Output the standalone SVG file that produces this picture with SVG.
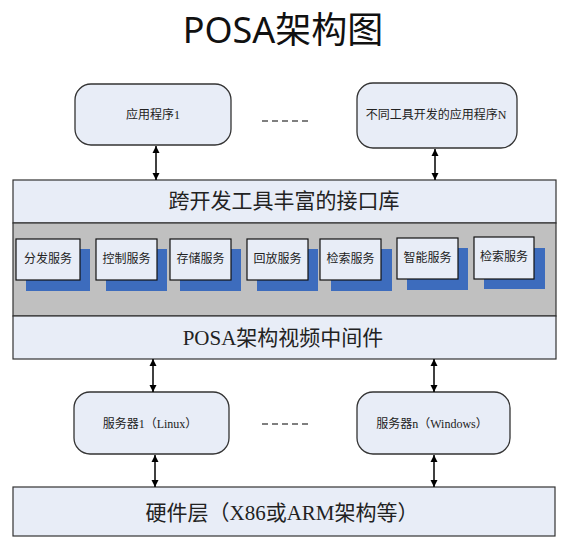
<svg xmlns="http://www.w3.org/2000/svg" width="566" height="542" viewBox="0 0 566 542">
<defs>
<marker id="ah" viewBox="0 0 10 10" refX="10" refY="5" markerWidth="7" markerHeight="8" markerUnits="userSpaceOnUse" orient="auto-start-reverse">
<path d="M0,0 L10,5 L0,10 z" fill="#000"/>
</marker>
<style>
.t{font-family:"Liberation Serif","Noto Sans CJK SC",serif;fill:#222;text-anchor:middle;dominant-baseline:central}
.node{fill:#e8edf7;stroke:#333;stroke-width:1.3}
.bar{fill:#e8edf7;stroke:#333;stroke-width:1.2}
.sh{fill:#3d6cbd}
.svc{fill:#e8edf7;stroke:#111;stroke-width:1.2}
.c{stroke:#000;stroke-width:1.5;fill:none;marker-start:url(#ah);marker-end:url(#ah)}
.d{stroke:#000;stroke-width:1.2;stroke-dasharray:6,4;fill:none}
</style>
</defs>
<rect width="566" height="542" fill="#fff"/>
<text x="283" y="29" font-family="Noto Sans,'Noto Sans CJK SC',sans-serif" font-size="36" text-anchor="middle" dominant-baseline="central" fill="#111">POSA架构图</text>

<g id="app1"><rect class="node" x="75" y="84" width="156" height="61" rx="16"/><text class="t" x="153" y="115" font-size="12">应用程序1</text></g>
<g id="appN"><rect class="node" x="357" y="83" width="160" height="65" rx="16"/><text class="t" x="436" y="115" font-size="12">不同工具开发的应用程序N</text></g>

<g id="api"><rect class="bar" x="13" y="180" width="543" height="43"/><text class="t" x="284" y="201" font-size="21">跨开发工具丰富的接口库</text></g>
<g id="services-band"><rect x="13" y="223" width="543" height="93" fill="#c0c0c0" stroke="#333" stroke-width="1.2"/></g>

<g id="svc1"><rect class="sh" x="26" y="249" width="64" height="42"/><rect class="svc" x="16" y="239" width="64" height="41"/><text class="t" x="48" y="259" font-size="12">分发服务</text></g>
<g id="svc2"><rect class="sh" x="106" y="249" width="61" height="42"/><rect class="svc" x="96" y="239" width="61" height="41"/><text class="t" x="126.5" y="259" font-size="12">控制服务</text></g>
<g id="svc3"><rect class="sh" x="180" y="249" width="61" height="42"/><rect class="svc" x="170" y="239" width="61" height="41"/><text class="t" x="200.5" y="259" font-size="12">存储服务</text></g>
<g id="svc4"><rect class="sh" x="257" y="249" width="61" height="42"/><rect class="svc" x="247" y="239" width="61" height="41"/><text class="t" x="277.5" y="259" font-size="12">回放服务</text></g>
<g id="svc5"><rect class="sh" x="331" y="249" width="61" height="42"/><rect class="svc" x="320" y="239" width="61" height="41"/><text class="t" x="350.5" y="259" font-size="12">检索服务</text></g>
<g id="svc6"><rect class="sh" x="407" y="248" width="61" height="42"/><rect class="svc" x="397" y="238" width="61" height="41"/><text class="t" x="427.5" y="258" font-size="12">智能服务</text></g>
<g id="svc7"><rect class="sh" x="484" y="248" width="61" height="41"/><rect class="svc" x="474" y="237" width="60" height="42"/><text class="t" x="504" y="257" font-size="12">检索服务</text></g>

<g id="mw"><rect class="bar" x="13" y="316" width="543" height="43"/><text class="t" x="283" y="338" font-size="21">POSA架构视频中间件</text></g>

<g id="srv1"><rect class="node" x="74" y="392" width="155" height="62" rx="16"/><text class="t" x="150" y="424" font-size="12">服务器1（Linux）</text></g>
<g id="srvN"><rect class="node" x="357" y="392" width="153" height="62" rx="16"/><text class="t" x="432" y="424" font-size="12">服务器n（Windows）</text></g>

<g id="hw"><rect class="bar" x="13" y="487" width="542" height="49"/><text class="t" x="282" y="513" font-size="21">硬件层（X86或ARM架构等）</text></g>

<g id="connectors">
<line class="c" x1="156" y1="146" x2="156" y2="180"/>
<line class="c" x1="435" y1="149" x2="435" y2="180"/>
<line class="c" x1="153" y1="359" x2="153" y2="392"/>
<line class="c" x1="434" y1="359" x2="434" y2="392"/>
<line class="c" x1="155" y1="455" x2="155" y2="487"/>
<line class="c" x1="434" y1="455" x2="434" y2="487"/>
<line class="d" x1="262" y1="121" x2="312" y2="121"/>
<line class="d" x1="262" y1="424" x2="312" y2="424"/>
</g>
</svg>
